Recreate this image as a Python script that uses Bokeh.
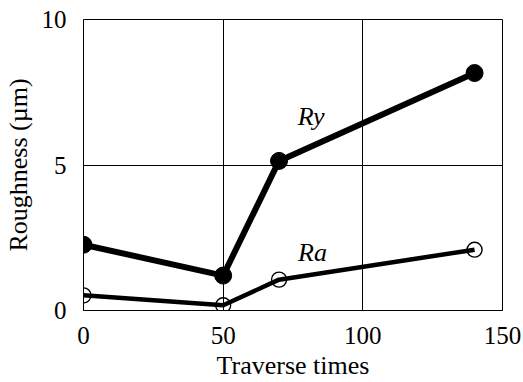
from bokeh.plotting import figure
from bokeh.models import Range1d, FixedTicker
from bokeh.core.properties import value
from bokeh.embed import file_html
from bokeh.resources import INLINE

traverse = [0, 50, 70, 140]
ry = [2.26, 1.2, 5.14, 8.16]
ra = [0.52, 0.18, 1.06, 2.09]
x_ticks = [0, 50, 100, 150]
y_ticks = [0, 5, 10]
labels = ["Ry", "Ra"]
label_x = [81.5, 82.0]
label_y = [6.67, 1.98]

FONT = "Liberation Serif"

p = figure(width=523, height=382, output_backend="svg", toolbar_location=None,
           x_range=Range1d(0, 150), y_range=Range1d(0, 10),
           min_border_left=83, min_border_right=21, min_border_top=19, min_border_bottom=70)
p.background_fill_color = "white"
p.border_fill_color = "white"
p.outline_line_color = "black"
p.outline_line_width = 1

for ax in (p.xaxis[0], p.yaxis[0]):
    ax.major_tick_line_color = None
    ax.minor_tick_line_color = None
    ax.axis_line_color = "black"
    ax.major_label_text_font = FONT
    ax.major_label_text_font_size = "25px"
    ax.major_label_text_color = "black"
    ax.axis_label_text_font = FONT
    ax.axis_label_text_font_size = "26px"
    ax.axis_label_text_font_style = "normal"
    ax.axis_label_text_color = "black"

p.xaxis.ticker = FixedTicker(ticks=x_ticks)
p.yaxis.ticker = FixedTicker(ticks=y_ticks)
p.xaxis.axis_label = "Traverse times"
p.yaxis.axis_label = "Roughness (µm)"
p.xaxis.major_label_standoff = 10
p.xaxis.axis_label_standoff = 4
p.yaxis.major_label_standoff = 11
p.yaxis.axis_label_standoff = 6

p.xgrid.ticker = FixedTicker(ticks=[50, 100])
p.ygrid.ticker = FixedTicker(ticks=[5])
p.grid.grid_line_color = "black"
p.grid.grid_line_width = 1
p.grid.grid_line_alpha = 1

p.line(traverse, ry, line_color="black", line_width=6)
p.scatter(traverse, ry, size=17, fill_color="black", line_color="black")
p.scatter(traverse, ra, size=15, fill_color=None, line_color="black", line_width=1.4)
p.line(traverse, ra, line_color="black", line_width=4.5)

p.text(x=label_x, y=label_y, text=labels, text_font=value(FONT), text_font_style="italic",
       text_font_size="26px", text_align="center", text_baseline="middle", text_color="black")

open("out.html", "w").write(file_html(p, INLINE))
